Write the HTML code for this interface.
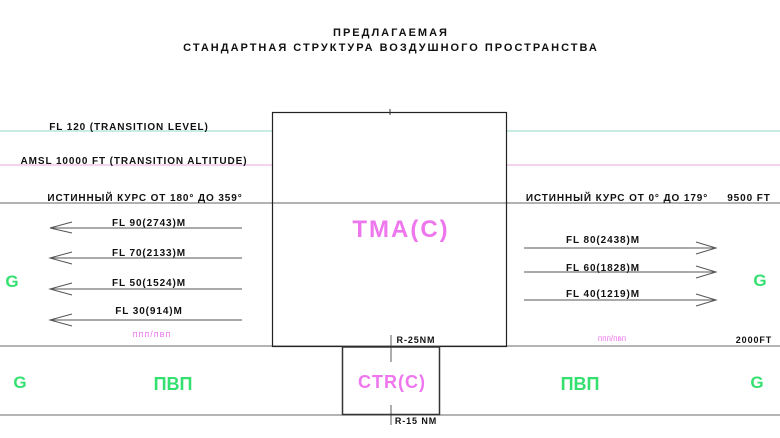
<!DOCTYPE html>
<html><head><meta charset="utf-8"><style>
html,body{margin:0;padding:0;background:#fff;width:780px;height:438px;overflow:hidden}
svg{display:block}
text{font-family:"Liberation Sans","DejaVu Sans",sans-serif;font-weight:bold}
</style></head><body>
<svg width="780" height="438" viewBox="0 0 780 438" xmlns="http://www.w3.org/2000/svg">
<g font-size="11" fill="#111" text-anchor="middle" letter-spacing="2">
<text x="391" y="36">ПРЕДЛАГАЕМАЯ</text>
<text x="391" y="51">СТАНДАРТНАЯ СТРУКТУРА ВОЗДУШНОГО ПРОСТРАНСТВА</text>
</g>
<line x1="0" y1="131" x2="272" y2="131" stroke="#8fd8c8" stroke-width="1"/>
<line x1="507" y1="131" x2="780" y2="131" stroke="#8fd8c8" stroke-width="1"/>
<line x1="0" y1="165" x2="272" y2="165" stroke="#e8a8d8" stroke-width="1"/>
<line x1="507" y1="165" x2="780" y2="165" stroke="#e8a8d8" stroke-width="1"/>
<line x1="0" y1="203" x2="780" y2="203" stroke="#666" stroke-width="1"/>
<line x1="0" y1="346" x2="780" y2="346" stroke="#888" stroke-width="1.2"/>
<line x1="0" y1="415" x2="780" y2="415" stroke="#888" stroke-width="1.2"/>
<rect x="272.5" y="112.5" width="234" height="234" fill="none" stroke="#222" stroke-width="1.2"/>
<rect x="342.5" y="347" width="97" height="67.5" fill="#fff" stroke="#333" stroke-width="1.5"/>
<line x1="390" y1="109" x2="390" y2="115" stroke="#333"/>
<line x1="391" y1="335" x2="391" y2="362" stroke="#333" stroke-width="0.8"/>
<line x1="391" y1="405" x2="391" y2="425" stroke="#333" stroke-width="0.8"/>
<g font-size="10" fill="#111" letter-spacing="0.9">
<text x="129" y="130" text-anchor="middle">FL 120 (TRANSITION LEVEL)</text>
<text x="134" y="164" text-anchor="middle">AMSL 10000 FT (TRANSITION ALTITUDE)</text>
<text x="145" y="201" text-anchor="middle">ИСТИННЫЙ КУРС ОТ 180° ДО 359°</text>
<text x="617" y="201" text-anchor="middle">ИСТИННЫЙ КУРС ОТ 0° ДО 179°</text>
<text x="749" y="201" text-anchor="middle">9500 FT</text>
<text x="149" y="226" text-anchor="middle">FL 90(2743)M</text>
<text x="149" y="256" text-anchor="middle">FL 70(2133)M</text>
<text x="149" y="286" text-anchor="middle">FL 50(1524)M</text>
<text x="149" y="314" text-anchor="middle">FL 30(914)M</text>
<text x="603" y="243" text-anchor="middle">FL 80(2438)M</text>
<text x="603" y="271" text-anchor="middle">FL 60(1828)M</text>
<text x="603" y="297" text-anchor="middle">FL 40(1219)M</text>
<text x="416" y="343" text-anchor="middle" font-size="9">R-25NM</text>
<text x="754" y="343" text-anchor="middle" font-size="9">2000FT</text>
<text x="416" y="424" text-anchor="middle" font-size="9">R-15 NM</text>
</g>
<g stroke="#555" stroke-width="1" fill="none">
<path d="M242 228H50M72 222L50 228L72 233"/>
<path d="M242 258H50M72 252L50 258L72 264"/>
<path d="M242 289H50M72 283L50 289L72 295"/>
<path d="M242 320H50M72 314L50 320L72 326"/>
<path d="M524 248H716M696 242L716 248L696 254"/>
<path d="M524 272H716M696 266L716 272L696 278"/>
<path d="M524 300H716M696 294L716 300L696 306"/>
</g>
<g fill="#ee77ee" text-anchor="middle">
<text x="401" y="237" font-size="24" letter-spacing="2">TMA(C)</text>
<text x="392" y="388" font-size="18" letter-spacing="1">CTR(C)</text>
<text x="152" y="337" font-size="9" font-weight="normal" style="font-weight:normal" letter-spacing="1">ппп/пвп</text>
<text x="612" y="341" font-size="8" font-weight="normal" style="font-weight:normal">ппп/пвп</text>
</g>
<g fill="#33e070" text-anchor="middle" font-size="17">
<text x="12" y="287">G</text>
<text x="760" y="286">G</text>
<text x="20" y="388">G</text>
<text x="757" y="388">G</text>
<text x="173" y="390" font-size="18">ПВП</text>
<text x="580" y="390" font-size="18">ПВП</text>
</g>
</svg>
</body></html>
